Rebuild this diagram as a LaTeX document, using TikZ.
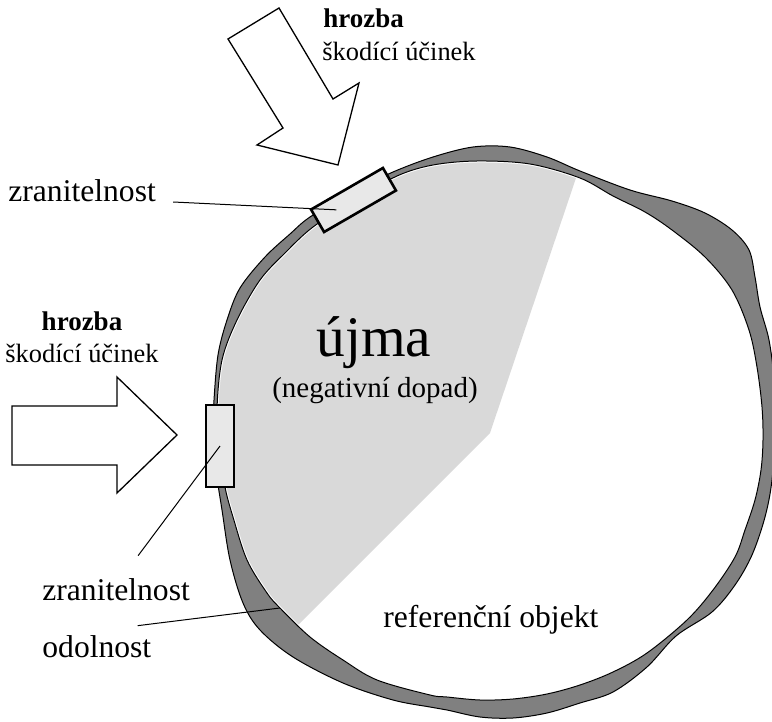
\documentclass[tikz,border=0pt]{standalone}
\usepackage{fontspec}
\setmainfont{Liberation Serif}
\usetikzlibrary{calc}

\definecolor{resGray}{RGB}{128,128,128}
\definecolor{harmGray}{RGB}{217,217,217}
\definecolor{vulGray}{RGB}{232,232,232}

\begin{document}
\begin{tikzpicture}[x=0.5pt, y=-0.5pt,
   edge/.style={draw=black, line width=0.5pt},
   vul/.style={draw=black, line width=1.3pt, fill=vulGray, inner sep=0pt},
   threat/.style={draw=black, line width=0.65pt, fill=white, line join=miter},
   lead/.style={draw=black, line width=0.5pt},
   lbl/.style={inner sep=0pt, font=\fontsize{15.8}{19}\selectfont},
   thr/.style={inner sep=0pt, font=\fontsize{13.5}{16}\selectfont\bfseries},
   eff/.style={inner sep=0pt, font=\fontsize{13.2}{16}\selectfont}]

  \useasboundingbox (0,0) rectangle (772,722);

  % ===== odolnost (vnejsi obrys) =====
  \path[save path=\outerp] plot[smooth cycle, tension=0.55] coordinates {
    (310,217) (352,192) (393,172) (433,157) (473,147) (510,147) (547,157)
    (580,171) (630,190) (672,201) (705,213) (732,230) (749,250) (755,277)
    (760,307) (769,340) (774,380) (775,430) (772,480) (765,517) (752,555)
    (735,585) (712,612) (676,636) (647,667) (613,692) (580,703) (547,713)
    (513,718) (480,717) (447,710) (430,707) (393,700) (343,683) (293,657)
    (260,630) (243,603) (230,560) (222,510) (216,470) (213,430) (214,400)
    (218,355) (227,320) (240,288) (265,257) (290,234)};
  \fill[resGray, use path=\outerp];
  \draw[edge, use path=\outerp];

  % ===== referencni objekt =====
  \path[save path=\innerp] plot[smooth cycle, tension=0.55] coordinates {
    (313,227) (355,200) (397,176) (433,165) (477,161) (530,164) (580,178)
    (613,196) (645,212) (672,230) (705,257) (732,290) (749,330) (757,367)
    (762,407) (763,440) (761,470) (755,500) (745,530) (735,557) (713,590)
    (687,620) (647,653) (613,672) (580,685) (547,694) (513,699) (480,700)
    (447,697) (430,695) (377,680) (343,660) (310,637) (280,608) (267,593)
    (247,560) (233,517) (225,487) (220,450) (217,410) (222,360) (237,320)
    (260,280) (285,253)};
  \fill[white, use path=\innerp];

  % ujma (vysec)
  \begin{scope}
    \clip[use path=\innerp];
    \fill[harmGray] (603,98) -- (577,175) -- (490,433) -- (298,625)
      -- (250,676) -- (0,722) -- (0,0) -- (603,0) -- cycle;
    \draw[white, line width=1.5pt, use path=\innerp];
  \end{scope}
  \draw[edge, use path=\innerp];

  % ===== zranitelnosti =====
  \node[vul, rotate=30, minimum width=41.5pt, minimum height=13pt] (vulT) at (353.5,200) {};
  \node[vul, minimum width=14pt, minimum height=41pt] (vulL) at (220,446) {};

  % ===== hrozby =====
  \draw[threat] (279,8) -- (228,39) -- (283,128) -- (257,145) -- (338,165)
    -- (359,83) -- (333,99) -- cycle;
  \draw[threat] (12,406) -- (117,406) -- (117,377) -- (177,435) -- (117,493)
    -- (117,465) -- (12,465) -- cycle;

  \node[thr, anchor=base west] (thrT) at (323,28) {hrozba};
  \node[eff, anchor=base west] (effT) at (322,60.5) {škodící účinek};
  \node[thr, anchor=base] (thrL) at (82,330) {hrozba};
  \node[eff, anchor=base] (effL) at (82,362) {škodící účinek};

  % ===== popisky =====
  \node[inner sep=0pt, font=\fontsize{28.7}{34}\selectfont, anchor=base] (harm) at (374,357) {újma};
  \node[inner sep=0pt, font=\fontsize{14.5}{17}\selectfont, anchor=base] (harmSub) at (375,397) {(negativní dopad)};
  \node[lbl, anchor=base west] (refObj) at (383,627) {referenční objekt};

  \node[lbl, anchor=base west] (zrT) at (8,202) {zranitelnost};
  \node[lbl, anchor=base west] (zrL) at (42,600) {zranitelnost};
  \node[lbl, anchor=base west] (odol) at (42,657) {odolnost};
  \coordinate (resPt) at (280,608);

  \draw[lead] ([xshift=8.5pt]zrT.base east) -- ($(vulT.center)!0.46!(vulT.west)$);
  \draw[lead] ([shift={(22,-22)}]zrL.north) -- (vulL.center);
  \draw[lead] ([shift={(-14,-9)}]odol.north east) -- (resPt);

\end{tikzpicture}
\end{document}
